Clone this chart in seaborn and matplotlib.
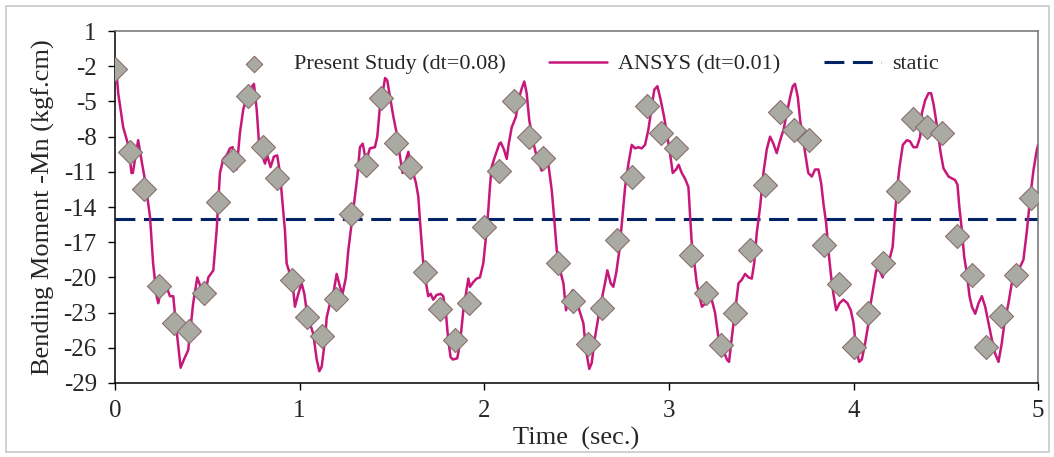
import numpy as np
import pandas as pd
import matplotlib
matplotlib.use("Agg")
import matplotlib.pyplot as plt
import seaborn as sns
from matplotlib.patches import Rectangle

# ---------------------------------------------------------
# data
# ---------------------------------------------------------
# Present study, dt = 0.08 s
present_t = np.round(np.arange(63) * 0.08, 2)
present_m = [-2.2, -9.3, -12.5, -20.7, -23.9, -24.6, -21.3, -13.6, -10.0, -4.5,
             -8.9, -11.5, -20.2, -23.4, -25.0, -21.8, -14.6, -10.4, -4.7, -8.5,
             -10.6, -19.5, -22.7, -25.3, -22.2, -15.7, -10.9, -5.0, -8.0, -9.8,
             -18.8, -22.0, -25.7, -22.6, -16.8, -11.4, -5.4, -7.7, -9.0, -18.1,
             -21.3, -25.8, -23.0, -17.7, -12.1, -5.9, -7.4, -8.3, -17.2, -20.6,
             -25.9, -23.0, -18.8, -12.6, -6.5, -7.2, -7.7, -16.5, -19.8, -25.9,
             -23.3, -19.8, -13.2]

# ANSYS, dt = 0.01 s (vertices)
ansys_t = [0.000, 0.009, 0.018, 0.045, 0.072, 0.090, 0.097, 0.126, 0.145, 0.163,
           0.190, 0.207, 0.226, 0.235, 0.253, 0.280, 0.298, 0.316, 0.334, 0.356,
           0.374, 0.397, 0.424, 0.446, 0.464, 0.490, 0.506, 0.533, 0.551, 0.569,
           0.587, 0.605, 0.623, 0.638, 0.659, 0.677, 0.695, 0.713, 0.731, 0.753,
           0.768, 0.782, 0.813, 0.825, 0.843, 0.861, 0.879, 0.894, 0.908, 0.921,
           0.930, 0.948, 0.966, 0.975, 0.993, 1.011, 1.026, 1.038, 1.056, 1.074,
           1.093, 1.107, 1.120, 1.138, 1.147, 1.165, 1.186, 1.201, 1.219, 1.233,
           1.251, 1.264, 1.282, 1.300, 1.313, 1.327, 1.342, 1.360, 1.381, 1.408,
           1.421, 1.435, 1.453, 1.463, 1.475, 1.490, 1.508, 1.526, 1.544, 1.558,
           1.576, 1.589, 1.607, 1.631, 1.643, 1.656, 1.670, 1.685, 1.697, 1.710,
           1.724, 1.742, 1.764, 1.778, 1.793, 1.805, 1.818, 1.830, 1.854, 1.869,
           1.887, 1.901, 1.914, 1.923, 1.941, 1.959, 1.977, 1.995, 2.010, 2.022,
           2.031, 2.040, 2.058, 2.082, 2.090, 2.107, 2.122, 2.133, 2.149, 2.172,
           2.185, 2.203, 2.217, 2.230, 2.244, 2.263, 2.284, 2.311, 2.329, 2.347,
           2.366, 2.378, 2.393, 2.411, 2.429, 2.443, 2.461, 2.479, 2.497, 2.515,
           2.537, 2.551, 2.569, 2.582, 2.600, 2.618, 2.636, 2.654, 2.667, 2.685,
           2.699, 2.714, 2.732, 2.745, 2.763, 2.781, 2.799, 2.817, 2.835, 2.853,
           2.871, 2.889, 2.907, 2.921, 2.938, 2.956, 2.974, 2.992, 3.006, 3.021,
           3.039, 3.053, 3.070, 3.088, 3.106, 3.115, 3.124, 3.138, 3.151, 3.166,
           3.179, 3.200, 3.214, 3.232, 3.250, 3.268, 3.295, 3.314, 3.326, 3.341,
           3.359, 3.377, 3.395, 3.413, 3.431, 3.449, 3.462, 3.476, 3.494, 3.512,
           3.530, 3.548, 3.566, 3.584, 3.603, 3.621, 3.639, 3.657, 3.671, 3.683,
           3.698, 3.711, 3.725, 3.738, 3.755, 3.774, 3.792, 3.810, 3.825, 3.837,
           3.852, 3.864, 3.877, 3.891, 3.906, 3.924, 3.945, 3.967, 3.985, 4.000,
           4.014, 4.030, 4.045, 4.063, 4.081, 4.090, 4.108, 4.123, 4.141, 4.158,
           4.170, 4.194, 4.212, 4.225, 4.237, 4.249, 4.267, 4.289, 4.306, 4.324,
           4.343, 4.361, 4.370, 4.388, 4.406, 4.420, 4.433, 4.447, 4.460, 4.472,
           4.487, 4.514, 4.550, 4.563, 4.573, 4.587, 4.599, 4.614, 4.628, 4.641,
           4.659, 4.677, 4.695, 4.713, 4.731, 4.749, 4.767, 4.785, 4.803, 4.817,
           4.839, 4.857, 4.875, 4.893, 4.920, 4.939, 4.957, 4.975, 4.993, 5.000]
ansys_m = [-2.0, -2.6, -4.3, -7.2, -8.7, -11.1, -11.1, -8.3, -10.1, -11.7,
           -14.8, -18.8, -21.6, -22.2, -20.8, -20.8, -21.6, -21.6, -24.5, -27.7,
           -27.0, -26.2, -22.2, -20.0, -20.8, -21.3, -20.0, -19.4, -16.0, -11.1,
           -9.9, -9.6, -9.0, -8.9, -10.8, -7.7, -5.7, -4.6, -4.0, -3.5,
           -5.7, -8.9, -10.3, -9.6, -10.6, -9.7, -9.6, -11.1, -13.7, -16.0,
           -18.8, -19.7, -21.1, -22.5, -21.4, -20.5, -21.4, -22.8, -23.9, -24.8,
           -27.0, -28.0, -27.6, -25.3, -23.4, -22.2, -21.1, -19.7, -20.8, -21.4,
           -20.0, -17.7, -15.4, -13.1, -11.4, -8.9, -8.6, -10.1, -9.0, -8.9,
           -8.0, -5.5, -4.0, -3.0, -3.2, -4.6, -6.3, -7.7, -9.7, -11.1,
           -10.0, -9.3, -10.6, -12.0, -13.1, -16.0, -18.8, -20.5, -21.6, -21.4,
           -21.9, -21.5, -21.4, -21.6, -23.1, -25.3, -26.8, -27.0, -26.9, -25.6,
           -22.8, -21.4, -20.1, -20.8, -20.4, -20.1, -20.0, -18.8, -16.5, -14.3,
           -12.3, -10.6, -9.7, -8.6, -8.5, -9.1, -9.9, -8.6, -7.2, -6.3,
           -4.9, -3.9, -3.3, -4.3, -6.6, -8.3, -9.7, -10.9, -10.6, -10.3,
           -12.6, -14.8, -17.7, -19.4, -20.5, -22.8, -21.6, -21.1, -21.6, -22.8,
           -23.9, -26.2, -27.8, -27.3, -25.1, -23.4, -21.9, -20.5, -19.4, -20.5,
           -20.8, -19.7, -17.7, -15.4, -12.3, -10.3, -8.7, -9.0, -8.9, -9.0,
           -8.7, -7.4, -5.5, -4.0, -3.7, -4.9, -6.3, -8.0, -9.4, -11.1,
           -10.8, -10.4, -11.1, -11.6, -12.3, -14.8, -17.1, -18.8, -20.5, -21.6,
           -22.5, -22.2, -21.6, -21.9, -23.0, -25.1, -26.2, -27.0, -27.2, -25.1,
           -22.8, -20.5, -20.2, -19.7, -20.0, -20.1, -18.8, -16.2, -14.0, -11.1,
           -9.1, -8.0, -8.6, -9.4, -8.3, -7.4, -6.0, -4.6, -3.7, -3.5,
           -4.6, -6.6, -8.0, -9.4, -11.1, -11.4, -10.8, -10.8, -12.0, -13.7,
           -15.4, -17.7, -19.7, -21.4, -22.8, -22.2, -21.9, -22.2, -22.8, -23.9,
           -26.0, -27.2, -27.0, -25.6, -23.9, -22.5, -20.8, -19.4, -19.4, -20.0,
           -18.8, -18.5, -17.4, -14.5, -12.3, -10.6, -8.7, -8.3, -8.4, -8.9,
           -8.9, -8.0, -6.0, -4.9, -4.3, -4.3, -5.2, -6.6, -8.0, -9.4,
           -10.7, -11.4, -11.7, -12.1, -14.0, -16.0, -18.2, -19.7, -21.6, -22.5,
           -23.1, -22.2, -21.6, -22.5, -23.9, -25.3, -26.5, -27.2, -25.6, -23.9,
           -22.2, -20.5, -19.7, -19.4, -18.5, -16.0, -13.1, -10.8, -9.1, -8.7]

static_m = -15.0

y_ticks = list(range(-29, 2, 3))
x_ticks = [0, 1, 2, 3, 4, 5]

present = pd.DataFrame({'t': present_t, 'm': present_m})
ansys = pd.DataFrame({'t': ansys_t, 'm': ansys_m})

# ---------------------------------------------------------
# style
# ---------------------------------------------------------
sns.set_theme(style="white")
plt.rcParams['font.family'] = ['Liberation Serif', 'DejaVu Serif']
plt.rcParams['axes.unicode_minus'] = False

fig = plt.figure(figsize=(10.54, 4.57), dpi=100)
ax = fig.add_axes([0.109, 0.162, 0.876, 0.770])

# outer chart frame
fig.patches.append(Rectangle((0.006, 0.012), 0.989, 0.975, transform=fig.transFigure,
                             fill=False, edgecolor='#c8c8c8', linewidth=1.2))

sns.lineplot(data=ansys, x='t', y='m', ax=ax, color='#c8177a', linewidth=1.8,
             label='ANSYS (dt=0.01)', zorder=2, estimator=None, sort=False)
ax.axhline(static_m, color='#002366', linestyle=(0, (6.5, 2.8)), linewidth=2.2,
           label='static', zorder=1)
sns.scatterplot(data=present, x='t', y='m', ax=ax, marker='D', s=150,
                color='#a9aaa2', edgecolor='#8a6e6e', linewidth=0.8,
                label='Present Study (dt=0.08)', zorder=3)

ax.set_xlim(0, 5)
ax.set_ylim(-29, 1)
ax.set_xticks(x_ticks)
ax.set_yticks(y_ticks)
ax.tick_params(axis='both', direction='out', length=5, width=1, color='black',
               labelsize=18, bottom=True, left=True)
ax.tick_params(axis='y', pad=8)
ax.tick_params(axis='x', pad=7)

for side in ['left', 'bottom']:
    ax.spines[side].set_color('black')
    ax.spines[side].set_linewidth(1.1)
for side in ['top', 'right']:
    ax.spines[side].set_color('#707070')
    ax.spines[side].set_linewidth(1.1)

ax.set_xlabel('Time  (sec.)', fontsize=19, labelpad=4)
ax.set_ylabel('Bending Moment -Mn (kgf.cm)', fontsize=19, labelpad=6)

handles, labels = ax.get_legend_handles_labels()
order = [labels.index('Present Study (dt=0.08)'), labels.index('ANSYS (dt=0.01)'),
         labels.index('static')]
leg = ax.legend([handles[i] for i in order], [labels[i] for i in order],
                loc='center', bbox_to_anchor=(0.506, 0.906), ncol=3,
                frameon=False, fontsize=16, handlelength=2.6, columnspacing=1.95,
                handletextpad=0.5, borderaxespad=0.0)
leg.legend_handles[0].set_sizes([70])

fig.savefig('out.png', dpi=100)
